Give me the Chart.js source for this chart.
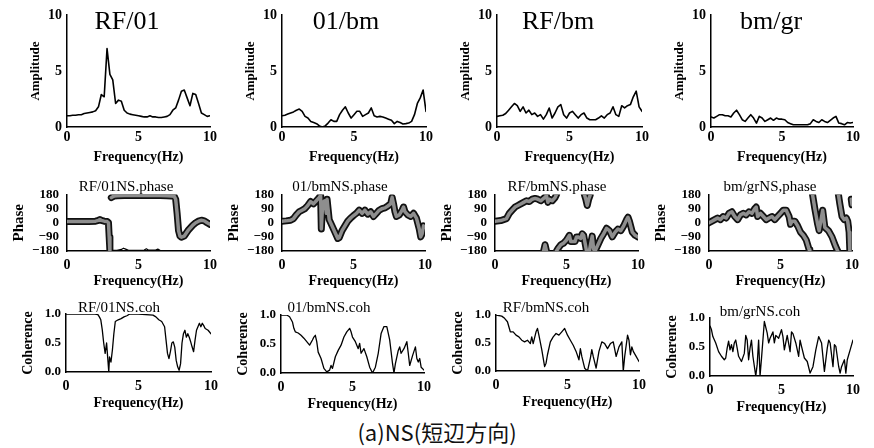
<!DOCTYPE html>
<html><head><meta charset="utf-8">
<script src="https://cdn.jsdelivr.net/npm/chart.js@4/dist/chart.umd.min.js"></script>
<style>
html,body{margin:0;padding:0;background:#fff;}
#wrap{position:relative;width:874px;height:448px;overflow:hidden;background:#fff;}
.box{position:absolute;}
.t{position:absolute;font-family:"Liberation Serif",serif;color:#000;line-height:1;white-space:nowrap;transform:translateX(-50%);}
.cap{position:absolute;font-family:"Noto Sans CJK JP",sans-serif;color:#111;line-height:1;white-space:nowrap;transform:translateX(-50%);}
</style></head><body><div id="wrap"></div>
<script>
// ---------- data ----------
const xTicks = [0, 5, 10];
const ampTitles = ['RF/01', '01/bm', 'RF/bm', 'bm/gr'];
const phaseTitles = ['RF/01NS.phase', '01/bmNS.phase', 'RF/bmNS.phase', 'bm/grNS,phase'];
const cohTitles = ['RF/01NS.coh', '01/bmNS.coh', 'RF/bmNS.coh', 'bm/grNS.coh'];
const caption = '(a)NS(短辺方向)';

const freqA = [0,0.2,0.4,0.6,0.8,1.0,1.2,1.4,1.6,1.8,
  2.0,2.2,2.4,2.6,2.8,3.0,3.2,3.4,3.6,3.8,
  4.0,4.2,4.4,4.6,4.8,5.0,5.2,5.4,5.6,5.8,
  6.0,6.2,6.4,6.6,6.8,7.0,7.2,7.4,7.6,7.8,
  8.0,8.2,8.4,8.6,8.8,9.0,9.2,9.4,9.6,9.8,
  10];
const amp1 = [1.0,1.0,1.05,1.05,1.1,1.1,1.2,1.25,1.3,1.35,
  1.45,1.8,2.9,2.7,7.0,4.7,4.2,2.1,2.4,2.3,
  1.5,1.25,1.15,1.1,1.05,1.0,0.95,0.9,0.9,1.0,
  0.9,0.9,0.85,0.85,0.9,0.95,1.1,1.5,1.7,2.4,
  3.2,3.3,2.6,1.9,3.0,2.9,2.1,1.25,1.1,0.95,
  1.0];
const amp2 = [1.0,1.05,1.15,1.25,1.35,1.5,1.6,1.4,0.95,0.8,
  0.5,0.4,0.3,0.1,0.0,0.1,0.35,0.65,0.5,0.5,
  1.1,1.5,1.8,1.25,0.8,1.1,1.4,1.4,0.95,1.1,
  1.25,1.7,1.0,0.9,0.95,0.9,0.8,0.7,0.6,0.3,
  0.5,0.4,0.27,0.3,0.35,0.5,1.1,2.1,2.6,3.3,
  1.4];
const amp3 = [0.95,1.0,1.05,1.2,1.5,1.8,2.1,1.9,1.4,1.8,
  1.25,1.5,1.1,1.25,0.95,1.1,0.7,1.1,1.7,0.8,
  1.25,1.8,2.0,1.1,0.8,1.25,1.4,1.1,0.8,1.1,
  1.25,0.8,0.65,0.65,0.65,0.8,1.0,0.8,1.1,1.25,
  1.8,1.1,0.95,1.9,1.7,1.9,2.0,2.7,3.2,1.8,
  1.4];
const amp4 = [0.9,0.8,0.95,1.1,1.1,1.0,1.0,0.9,1.25,1.5,
  1.1,0.65,0.5,0.8,1.1,0.8,0.35,0.95,0.8,0.5,
  0.65,0.8,0.6,0.8,0.7,0.7,0.65,0.4,0.3,0.2,
  0.2,0.2,0.2,0.2,0.2,0.3,0.65,0.5,0.4,0.65,
  0.5,0.4,0.6,0.8,0.95,0.35,0.3,0.2,0.4,0.35,
  0.4];

const phase1F = [0,0.5,1.0,1.5,2.0, 2.2,2.3,2.4,2.6,2.8, 2.9,2.95,3.0,3.05,3.1, 3.2,3.3,3.5,4.0,4.5,
  5.0,5.5,6.0,6.5,7.0, 7.3,7.5,7.6,7.7,7.8, 7.9,8.0,8.2,8.5,8.8, 9.0,9.2,9.4,9.6,9.8, 10];
const phase1V = [8,8,8,8,10, 15,20,15,10,8, 0,-90,-180,null,160, 166,170,172,174,174,
  173,174,174,173,172, 170,168,150,60,-50, -85,-92,-85,-45,-15, 0,10,16,12,0, -10];
const phase1bF = [3.05,3.5,3.8,3.95,4.1,4.3,5.0,5.4,5.55,5.7,6.2,6.35,6.5];
const phase1bV = [-176,-176,-170,-162,-168,-176,-176,-174,-166,-175,-174,-168,-176];

const phase2F = [0,0.3,0.6,0.8,1.0, 1.2,1.4,1.6,1.8,2.0, 2.2,2.4,2.6,2.7,2.75, 2.85,3.0,3.1,3.15,3.3,
  3.5,3.7,3.9,4.0,4.2, 4.4,4.6,4.8,5.0,5.2, 5.4,5.6,5.8,6.0,6.2, 6.4,6.6,6.8,7.0,7.2,
  7.4,7.6,7.7,7.8,7.9, 8.0,8.2,8.4,8.5,8.6, 8.8,9.0,9.2,9.4,9.6, 9.7,9.8,9.9,10];
const phase2V = [10,12,16,26,50, 70,80,90,110,135, 120,140,160,175,-40, 130,140,60,150,20,
  -20,-60,-100,-95,-50, -20,10,30,46,60, 80,60,80,55,70, 40,60,80,90,95,
  107,120,162,120,70, 40,50,80,100,70, 50,40,60,30,-40, -90,-70,-20,-30];

const phase3aF = [0,0.4,0.8,1.0,1.2,1.4,1.6,1.8,2.0,2.2,2.4,2.6,2.8,3.0,3.2,3.4,3.6,3.7,3.8,4.0,4.2,4.3,4.35,
  6.25,6.35,6.45,6.55,6.65];
const phase3aV = [10,14,26,60,80,100,110,120,130,140,135,150,155,150,140,155,172,130,150,140,160,180,null,
  180,150,110,150,175];
const phase3bF = [3.4,3.5,3.6,3.65, 4.3,4.4,4.6,4.8,5.0, 5.2,5.3,5.6,5.7,5.8, 6.0,6.1,6.2,6.3,6.4,
  6.6,6.7,6.8,6.9,7.0, 7.2,7.4,7.6,7.8,8.0, 8.2,8.4,8.6,8.8,9.0, 9.2,9.3,9.4,9.6,9.8, 10];
const phase3bV = [-180,-140,-180,null, -180,-165,-140,-130,-110, -80,-120,-120,-90,-90, -100,-70,-80,-130,-180,
  -180,-130,-85,-170,-180, -140,-100,-70,-35,-50, -90,-60,-40,-50,-20, 20,35,10,-60,-80, -90];

const phase4F = [0,0.2,0.4,0.6,0.8, 1.0,1.2,1.4,1.6,1.8, 2.0,2.2,2.4,2.6,2.8, 3.0,3.2,3.3,3.4,3.6,
  3.8,4.0,4.2,4.4,4.6, 4.8,5.0,5.2,5.4,5.6, 5.7,5.8,6.0,6.2,6.4, 6.6,6.8,7.0,7.05,7.15,
  7.24,7.4,7.6,7.7,7.95, 8.1,8.35,8.6,8.85,9.0, 9.02,9.05,9.15,9.3,9.45, 9.6,9.7,9.8,9.85,9.9, 9.95,10];
const phase4V = [0,10,20,30,20, 40,30,60,70,40, 20,50,60,50,70, 60,90,100,40,60,
  40,20,30,40,20, 40,60,80,80,40, -10,10,10,-20,-60, -80,-110,-170,-180,null,
  180,90,-10,-50,80, -30,-50,-90,-150,-180, null,180,120,40,20, 30,10,-60,-180,null, 150,115];

const coh1F = [0,1,2,2.2,2.3, 2.4,2.5,2.6,2.7,2.8, 2.9,2.95,3.0,3.1,3.2, 3.3,3.4,3.6,3.8,4.0,
  4.2,4.4,5.0,6.0,6.2, 6.4,6.6,6.8,6.9,7.0, 7.1,7.2,7.3,7.4,7.5, 7.6,7.7,7.8,7.9,8.0,
  8.1,8.2,8.3,8.4,8.5, 8.6,8.7,8.8,8.9,9.0, 9.2,9.3,9.4,9.5,9.6, 9.8,10];
const coh1V = [1.0,1.0,1.0,0.99,0.95, 0.9,0.73,0.5,0.32,0.5, 0.17,0.0,0.26,0.17,0.38, 0.66,0.87,0.9,0.92,0.95,
  0.97,1.0,1.0,0.98,0.95, 0.9,0.87,0.78,0.55,0.32, 0.23,0.35,0.5,0.52,0.43, 0.2,0.09,0.03,0.14,0.5,
  0.66,0.72,0.6,0.66,0.6, 0.52,0.43,0.35,0.55,0.72, 0.84,0.78,0.84,0.8,0.75, 0.72,0.66];

const coh2F = [0,0.2,0.4,0.6,0.8, 0.9,1.0,1.2,1.4,1.6, 1.8,2.0,2.2,2.3,2.4, 2.5,2.6,2.8,3.0,3.2,
  3.4,3.5,3.6,3.8,4.0, 4.2,4.4,4.6,4.8,4.9, 5.0,5.2,5.4,5.5,5.6, 5.8,6.0,6.2,6.4,6.6,
  6.8,7.0,7.2,7.4,7.6, 7.8,7.9,8.0,8.2,8.3, 8.4,8.6,8.8,8.9,9.0, 9.2,9.4,9.5,9.6,9.7, 9.8,10];
const coh2V = [1.0,1.0,1.0,0.97,0.88, 0.77,0.71,0.69,0.65,0.6, 0.54,0.48,0.57,0.62,0.65, 0.54,0.36,0.25,0.08,0.02,
  0.05,0.13,0.08,0.28,0.39, 0.48,0.62,0.71,0.77,0.71, 0.62,0.54,0.42,0.51,0.34, 0.42,0.28,0.1,0.0,0.1,
  0.34,0.68,0.8,0.8,0.57, 0.16,0.0,0.16,0.39,0.45, 0.34,0.42,0.54,0.34,0.13, 0.3,0.45,0.25,0.19,0.25, 0.1,0.05];

const coh3F = [0,0.4,0.6,0.8,1.0, 1.2,1.4,1.6,1.8,2.0, 2.2,2.4,2.5,2.6,2.8, 2.9,3.0,3.2,3.4,3.5,
  3.6,3.8,4.0,4.2,4.4, 4.6,4.8,5.0,5.2,5.4, 5.6,5.8,5.9,6.0,6.2, 6.4,6.6,6.7,6.8,7.0,
  7.2,7.4,7.6,7.8,8.0, 8.2,8.4,8.6,8.8,8.9, 9.0,9.2,9.3,9.4,9.5, 9.6,9.8,10];
const coh3V = [1.0,0.98,0.94,0.88,0.7, 0.7,0.64,0.61,0.55,0.52, 0.55,0.49,0.61,0.49,0.7, 0.76,0.64,0.38,0.08,0.14,
  0.29,0.52,0.61,0.67,0.64, 0.7,0.76,0.64,0.55,0.46, 0.35,0.2,0.4,0.26,0.05, 0.0,0.23,0.38,0.26,0.05,
  0.35,0.52,0.49,0.4,0.49, 0.52,0.26,0.43,0.52,0.0, 0.26,0.64,0.55,0.29,0.43, 0.35,0.26,0.17];

const coh4F = [0,0.1,0.2,0.4,0.6, 0.8,1.0,1.1,1.2,1.3, 1.4,1.5,1.6,1.7,1.8, 1.9,2.0,2.2,2.4,2.5,
  2.6,2.7,2.8,2.9,3.0, 3.2,3.3,3.4,3.5,3.6, 3.8,4.0,4.1,4.2,4.4, 4.5,4.6,4.8,5.0,5.1,
  5.2,5.4,5.6,5.7,5.8, 6.0,6.2,6.3,6.4,6.6, 6.8,7.0,7.2,7.4,7.6, 7.8,8.0,8.2,8.3,8.4,
  8.6,8.7,8.8,9.0,9.1, 9.2,9.4,9.5,9.6,9.8, 10];
const coh4V = [0.86,0.8,0.68,0.57,0.42, 0.34,0.28,0.31,0.48,0.6, 0.45,0.54,0.42,0.57,0.62, 0.48,0.34,0.25,0.39,0.7,
  0.62,0.28,0.48,0.62,0.34, 0.0,0.2,0.62,0.0,0.3, 0.94,0.74,0.57,0.65,0.76, 0.57,0.7,0.65,0.8,0.68,
  0.45,0.7,0.42,0.76,0.73, 0.57,0.34,0.62,0.51,0.31, 0.25,0.05,0.16,0.45,0.68, 0.57,0.08,0.48,0.62,0.57,
  0.16,0.54,0.51,0.16,0.05, 0.16,0.28,0.05,0.28,0.45, 0.62];

// ---------- layout ----------
const SERIF = '"Liberation Serif", "Times New Roman", serif';
const rows = {
  amp:   {min:0, max:10, step:5, label:'Amplitude', L:39, tickSize:14, titleSize:13, yPad:5, xPad:2, B:39, fmt:v=>String(v)},
  phase: {min:-180, max:180, step:90, label:'Phase', L:57, tickSize:13, titleSize:15, yPad:8, xPad:6, B:39, fmt:v=>String(v).replace('-', '\u2212')},
  coh:   {min:0, max:1, step:0.5, label:'Coherence', L:46, tickSize:13, titleSize:14, yPad:5, xPad:6, B:40, fmt:v=>Number(v).toFixed(1)}
};
const TOP = 12, RIGHT = 14;

const panels = [
  {row:'amp', rect:[67,15,210,127], lines:[{F:freqA, V:amp1, s:'amp'}]},
  {row:'amp', rect:[282,15,426,127], lines:[{F:freqA, V:amp2, s:'amp'}]},
  {row:'amp', rect:[497,15,642,127], lines:[{F:freqA, V:amp3, s:'amp'}]},
  {row:'amp', rect:[711,15,853,127], lines:[{F:freqA, V:amp4, s:'amp'}]},
  {row:'phase', rect:[67,192,210,251], lines:[{F:phase1F, V:phase1V, s:'band'}, {F:phase1bF, V:phase1bV, s:'trace'}]},
  {row:'phase', rect:[282,192,425,251], lines:[{F:phase2F, V:phase2V, s:'band'}]},
  {row:'phase', rect:[495,192,638,251], lines:[{F:phase3aF, V:phase3aV, s:'band'}, {F:phase3bF, V:phase3bV, s:'band'}]},
  {row:'phase', rect:[709,192,852,251], lines:[{F:phase4F, V:phase4V, s:'band'}]},
  {row:'coh', rect:[66,314,211,372], lines:[{F:coh1F, V:coh1V, s:'coh'}]},
  {row:'coh', rect:[281,315,424,373], lines:[{F:coh2F, V:coh2V, s:'coh'}]},
  {row:'coh', rect:[496,315,639,371], lines:[{F:coh3F, V:coh3V, s:'coh'}]},
  {row:'coh', rect:[710,318,853,376], lines:[{F:coh4F, V:coh4V, s:'coh'}]}
];

const titleSpecs = [
  {text:ampTitles[0], x:127, top:8, size:26}, {text:ampTitles[1], x:346, top:8, size:26},
  {text:ampTitles[2], x:558, top:8, size:26}, {text:ampTitles[3], x:771, top:8, size:26},
  {text:phaseTitles[0], x:126, top:179, size:15}, {text:phaseTitles[1], x:340, top:179, size:15},
  {text:phaseTitles[2], x:557, top:179, size:15}, {text:phaseTitles[3], x:770, top:179, size:15},
  {text:cohTitles[0], x:119, top:300, size:15}, {text:cohTitles[1], x:329, top:300, size:15},
  {text:cohTitles[2], x:546, top:300, size:15}, {text:cohTitles[3], x:760, top:304, size:15}
];

function pts(F, V) { return F.map((x, i) => ({x: x, y: V[i]})); }
function datasetsFor(line) {
  const base = {pointRadius:0, tension:0, fill:false, spanGaps:false, borderJoinStyle:'round', borderCapStyle:'round'};
  if (line.s === 'band') {
    return [
      Object.assign({}, base, {data:pts(line.F, line.V), borderColor:'#8e8e8e', borderWidth:3.5, order:0}),
      Object.assign({}, base, {data:pts(line.F, line.V), borderColor:'#111', borderWidth:7, order:1})
    ];
  }
  const w = line.s === 'amp' ? 1.6 : (line.s === 'coh' ? 1.3 : 1.2);
  return [Object.assign({}, base, {data:pts(line.F, line.V), borderColor:'#000', borderWidth:w, order:0})];
}

const wrap = document.getElementById('wrap');
panels.forEach((p) => {
  const r = rows[p.row];
  const [x0, y0, x1, y1] = p.rect;
  const left = x0 - r.L, top = y0 - TOP;
  const w = (x1 - x0) + r.L + RIGHT, h = (y1 - y0) + TOP + r.B;
  const div = document.createElement('div');
  div.className = 'box';
  div.style.left = left + 'px'; div.style.top = top + 'px';
  div.style.width = w + 'px'; div.style.height = h + 'px';
  const cv = document.createElement('canvas');
  cv.width = w; cv.height = h; cv.style.width = w + 'px'; cv.style.height = h + 'px';
  div.appendChild(cv); wrap.appendChild(div);
  let ds = [];
  p.lines.forEach(l => { ds = ds.concat(datasetsFor(l)); });
  new Chart(cv, {
    type: 'line',
    data: {datasets: ds},
    options: {
      responsive:false, animation:false, devicePixelRatio:1,
      layout:{padding:{top:TOP, right:RIGHT, left:0, bottom:0}},
      plugins:{legend:{display:false}, tooltip:{enabled:false}, title:{display:false}},
      scales:{
        x:{type:'linear', min:0, max:10,
          afterBuildTicks:(s)=>{ s.ticks = xTicks.map(v=>({value:v})); },
          ticks:{autoSkip:false, maxRotation:0, padding:r.xPad, color:'#000', font:{family:SERIF, size:14, weight:'bold'}},
          grid:{display:false, drawTicks:false},
          border:{display:true, color:'#000', width:1.5},
          title:{display:true, text:'Frequency(Hz)', color:'#000', padding:0, font:{family:SERIF, size:14, weight:'bold'}},
          afterFit:(s)=>{ s.height = r.B; }
        },
        y:{type:'linear', min:r.min, max:r.max,
          ticks:{stepSize:r.step, autoSkip:false, padding:r.yPad, color:'#000', font:{family:SERIF, size:r.tickSize, weight:'bold', lineHeight:1}, callback:(v)=>r.fmt(v)},
          grid:{display:false, drawTicks:false},
          border:{display:true, color:'#000', width:1.5},
          title:{display:true, text:r.label, color:'#000', padding:0, font:{family:SERIF, size:r.titleSize, weight:'bold'}},
          afterFit:(s)=>{ s.width = r.L; }
        }
      }
    }
  });
});

titleSpecs.forEach(t => {
  const d = document.createElement('div');
  d.className = 't';
  d.textContent = t.text;
  d.style.left = t.x + 'px'; d.style.top = t.top + 'px'; d.style.fontSize = t.size + 'px';
  wrap.appendChild(d);
});
const cap = document.createElement('div');
cap.className = 'cap';
cap.textContent = caption;
cap.style.left = '437px'; cap.style.top = '420px'; cap.style.fontSize = '22px';
wrap.appendChild(cap);
</script></body></html>
